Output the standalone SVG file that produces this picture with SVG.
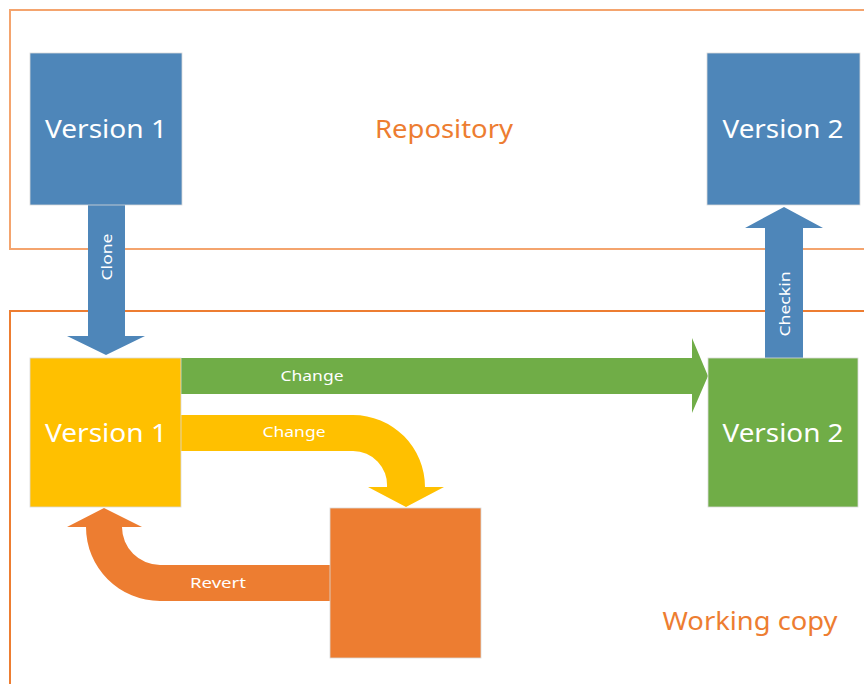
<svg xmlns="http://www.w3.org/2000/svg" width="864" height="684" viewBox="0 0 864 684">
  <style>
    .frame { fill: none; stroke-width: 2; }
    .box { stroke: #d9d9d9; stroke-width: 0.8; }
    .big { font-family: "Noto Sans", "Open Sans", sans-serif; font-size: 26px; fill: #ffffff; text-anchor: middle; }
    .title { font-family: "Noto Sans", "Open Sans", sans-serif; font-size: 25px; fill: #ED7D31; text-anchor: middle; }
    .lbl { font-family: "Noto Sans", "Open Sans", sans-serif; font-size: 15px; fill: #ffffff; text-anchor: middle; }
    .blue { fill: #4E86B9; }
    .yellow { fill: #FFC000; }
    .green { fill: #70AD47; }
    .orange { fill: #ED7D31; }
  </style>

  <!-- frames -->
  <g id="repository">
    <rect class="frame" x="10" y="10" width="870" height="239" stroke="#F4A46E"/>
    <text class="title" x="444" y="138" textLength="138" lengthAdjust="spacingAndGlyphs">Repository</text>
  </g>
  <g id="working-copy">
    <rect class="frame" x="10" y="311" width="870" height="390" stroke="#ED7D31"/>
    <text class="title" x="750" y="630" textLength="175" lengthAdjust="spacingAndGlyphs">Working copy</text>
  </g>

  <!-- connectors -->
  <g id="connectors">
    <!-- Clone -->
    <path class="blue" d="M88,205 H125 V336 H145 L106,355 L67,336 H88 Z"/>
    <text class="lbl" transform="translate(112,257) rotate(-90)" textLength="47" lengthAdjust="spacingAndGlyphs">Clone</text>
    <!-- Checkin -->
    <path class="blue" d="M765,358 V228 H745 L784,207 L823,228 H803 V358 Z"/>
    <text class="lbl" transform="translate(790,304) rotate(-90)" textLength="65" lengthAdjust="spacingAndGlyphs">Checkin</text>
    <!-- Change (straight) -->
    <path class="green" d="M181,358 H692 V338 L708,376 L692,413 V394 H181 Z"/>
    <text class="lbl" x="312" y="381" textLength="63" lengthAdjust="spacingAndGlyphs">Change</text>
    <!-- Change (bent) -->
    <path class="yellow" d="M181,415 H353 A72,72 0 0 1 425,487 H444 L406,507 L368,487 H387 A34,34 0 0 0 353,451 H181 Z"/>
    <text class="lbl" x="294" y="437" textLength="63" lengthAdjust="spacingAndGlyphs">Change</text>
    <!-- Revert -->
    <path class="orange" d="M330,565 H160 A38,38 0 0 1 122,527 H142 L104,508 L67,527 H86 A74,74 0 0 0 160,601 H330 Z"/>
    <text class="lbl" x="218" y="588" textLength="56" lengthAdjust="spacingAndGlyphs">Revert</text>
  </g>

  <!-- nodes -->
  <g id="repo-v1">
    <rect class="box blue" x="30" y="53" width="152" height="152"/>
    <text class="big" x="106" y="138" textLength="122" lengthAdjust="spacingAndGlyphs">Version 1</text>
  </g>
  <g id="repo-v2">
    <rect class="box blue" x="707" y="53" width="153" height="152"/>
    <text class="big" x="783" y="138" textLength="121" lengthAdjust="spacingAndGlyphs">Version 2</text>
  </g>
  <g id="wc-v1">
    <rect class="box yellow" x="30" y="358" width="151" height="149"/>
    <text class="big" x="106" y="442" textLength="122" lengthAdjust="spacingAndGlyphs">Version 1</text>
  </g>
  <g id="wc-v2">
    <rect class="box green" x="708" y="358" width="150" height="149"/>
    <text class="big" x="783" y="442" textLength="121" lengthAdjust="spacingAndGlyphs">Version 2</text>
  </g>
  <g id="wc-changed">
    <rect class="box orange" x="330" y="508" width="151" height="150"/>
  </g>
</svg>
